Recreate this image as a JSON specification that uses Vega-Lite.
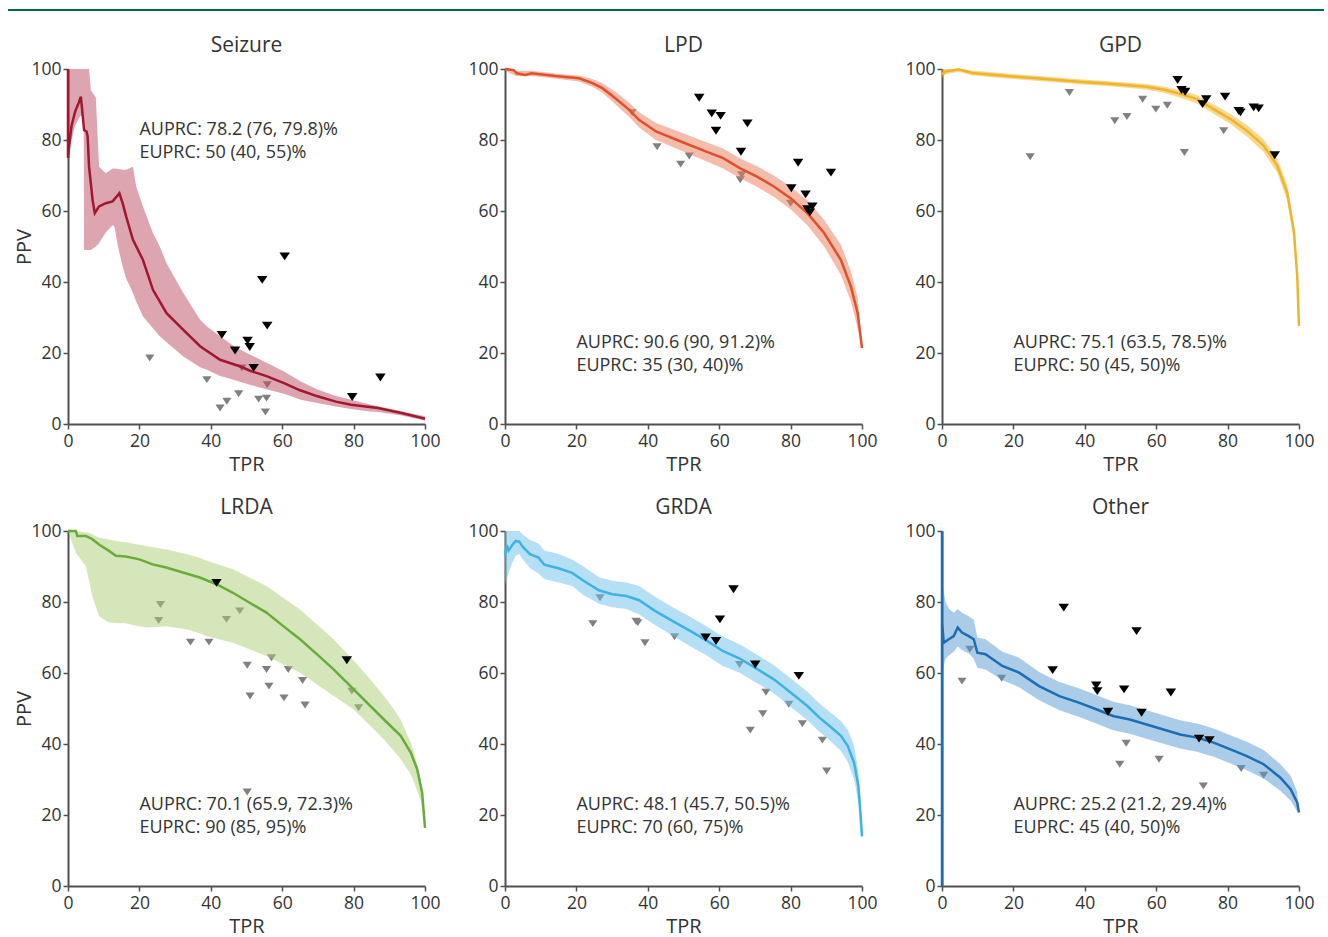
{
"$schema": "https://vega.github.io/schema/vega-lite/v6.json",
"padding": {"left": 8, "top": 9, "right": 4, "bottom": 2},
"bounds": "flush",
"spacing": 58,
"config": {
  "font": "Open Sans",
  "view": {"stroke": null},
  "axis": {"grid": false, "tickCount": 5, "labelFlush": false, "labelOverlap": false, "domainColor": "#505050", "domainWidth": 2, "tickColor": "#505050", "tickWidth": 1.5, "tickSize": 5, "labelFontSize": 17.5, "labelColor": "#333333", "titleFontSize": 20, "titleFontWeight": "normal", "titleColor": "#333333", "labelPadding": 3},
  "axisX": {"titlePadding": 5},
  "axisY": {"titlePadding": -4, "labelPadding": 2},
  "title": {"fontSize": 21, "fontWeight": "normal", "color": "#333333", "offset": 4}
},
"datasets": {
"curve": [
{"panel":"Seizure","tpr":0,"ppv":100},{"panel":"Seizure","tpr":0,"ppv":75},{"panel":"Seizure","tpr":0.5,"ppv":80},{"panel":"Seizure","tpr":1,"ppv":84},{"panel":"Seizure","tpr":2,"ppv":88},{"panel":"Seizure","tpr":3,"ppv":90.5},{"panel":"Seizure","tpr":3.6,"ppv":92.2},{"panel":"Seizure","tpr":4.3,"ppv":85},{"panel":"Seizure","tpr":4.5,"ppv":82.8},{"panel":"Seizure","tpr":5.2,"ppv":82.4},{"panel":"Seizure","tpr":5.5,"ppv":81},{"panel":"Seizure","tpr":5.9,"ppv":72.5},{"panel":"Seizure","tpr":6.9,"ppv":63},{"panel":"Seizure","tpr":7.5,"ppv":59.4},{"panel":"Seizure","tpr":8.7,"ppv":61.3},{"panel":"Seizure","tpr":10.6,"ppv":62.2},{"panel":"Seizure","tpr":12.5,"ppv":62.7},{"panel":"Seizure","tpr":14.4,"ppv":65},{"panel":"Seizure","tpr":15.3,"ppv":62.2},{"panel":"Seizure","tpr":16.3,"ppv":58.4},{"panel":"Seizure","tpr":18.2,"ppv":51.9},{"panel":"Seizure","tpr":21,"ppv":46.2},{"panel":"Seizure","tpr":23.8,"ppv":37.8},{"panel":"Seizure","tpr":27.6,"ppv":31.2},{"panel":"Seizure","tpr":32.3,"ppv":26.5},{"panel":"Seizure","tpr":37,"ppv":21.9},{"panel":"Seizure","tpr":42.6,"ppv":18.1},{"panel":"Seizure","tpr":48.3,"ppv":16.2},{"panel":"Seizure","tpr":51,"ppv":15},{"panel":"Seizure","tpr":55.8,"ppv":13.4},{"panel":"Seizure","tpr":60.5,"ppv":11.5},{"panel":"Seizure","tpr":65,"ppv":9.5},{"panel":"Seizure","tpr":69.9,"ppv":7.8},{"panel":"Seizure","tpr":75,"ppv":6.3},{"panel":"Seizure","tpr":79.3,"ppv":5.4},{"panel":"Seizure","tpr":86.8,"ppv":4.5},{"panel":"Seizure","tpr":93.4,"ppv":3.1},{"panel":"Seizure","tpr":100,"ppv":1.5},
{"panel":"LPD","tpr":0,"ppv":100},{"panel":"LPD","tpr":2.4,"ppv":99.7},{"panel":"LPD","tpr":3.3,"ppv":98.8},{"panel":"LPD","tpr":5.6,"ppv":98.3},{"panel":"LPD","tpr":7.5,"ppv":98.8},{"panel":"LPD","tpr":14.1,"ppv":98},{"panel":"LPD","tpr":20.7,"ppv":97.4},{"panel":"LPD","tpr":24.5,"ppv":96},{"panel":"LPD","tpr":27.3,"ppv":94.6},{"panel":"LPD","tpr":31,"ppv":91.7},{"panel":"LPD","tpr":34.8,"ppv":88.5},{"panel":"LPD","tpr":37.6,"ppv":85.6},{"panel":"LPD","tpr":42.3,"ppv":82.4},{"panel":"LPD","tpr":47,"ppv":80.5},{"panel":"LPD","tpr":51.7,"ppv":78.6},{"panel":"LPD","tpr":56.4,"ppv":76.7},{"panel":"LPD","tpr":61.1,"ppv":74.9},{"panel":"LPD","tpr":65.9,"ppv":72},{"panel":"LPD","tpr":70.6,"ppv":69.7},{"panel":"LPD","tpr":75.3,"ppv":66.9},{"panel":"LPD","tpr":80,"ppv":63.6},{"panel":"LPD","tpr":84.7,"ppv":59.4},{"panel":"LPD","tpr":89.4,"ppv":53.8},{"panel":"LPD","tpr":94.1,"ppv":46.2},{"panel":"LPD","tpr":96.9,"ppv":38.7},{"panel":"LPD","tpr":98.8,"ppv":31.2},{"panel":"LPD","tpr":100,"ppv":21.4},
{"panel":"GPD","tpr":0,"ppv":98.5},{"panel":"GPD","tpr":1,"ppv":99.3},{"panel":"GPD","tpr":4.7,"ppv":99.9},{"panel":"GPD","tpr":8.5,"ppv":98.9},{"panel":"GPD","tpr":19.7,"ppv":97.9},{"panel":"GPD","tpr":29.1,"ppv":97.2},{"panel":"GPD","tpr":38.5,"ppv":96.4},{"panel":"GPD","tpr":47.9,"ppv":95.8},{"panel":"GPD","tpr":57.3,"ppv":95},{"panel":"GPD","tpr":62,"ppv":94.2},{"panel":"GPD","tpr":66.7,"ppv":93},{"panel":"GPD","tpr":71.4,"ppv":91.5},{"panel":"GPD","tpr":76.1,"ppv":88.7},{"panel":"GPD","tpr":80.8,"ppv":85.9},{"panel":"GPD","tpr":85.4,"ppv":82.6},{"panel":"GPD","tpr":90.1,"ppv":78.4},{"panel":"GPD","tpr":93.9,"ppv":72.8},{"panel":"GPD","tpr":96.7,"ppv":65.2},{"panel":"GPD","tpr":98.6,"ppv":53.9},{"panel":"GPD","tpr":99.5,"ppv":41.7},{"panel":"GPD","tpr":100,"ppv":27.6},
{"panel":"LRDA","tpr":0,"ppv":100},{"panel":"LRDA","tpr":2.2,"ppv":100},{"panel":"LRDA","tpr":2.6,"ppv":98.6},{"panel":"LRDA","tpr":5,"ppv":98.6},{"panel":"LRDA","tpr":6.8,"ppv":97.7},{"panel":"LRDA","tpr":8.7,"ppv":96.2},{"panel":"LRDA","tpr":11.5,"ppv":94.4},{"panel":"LRDA","tpr":13.4,"ppv":93},{"panel":"LRDA","tpr":16.2,"ppv":92.8},{"panel":"LRDA","tpr":20,"ppv":92},{"panel":"LRDA","tpr":23.7,"ppv":90.6},{"panel":"LRDA","tpr":27.5,"ppv":89.7},{"panel":"LRDA","tpr":32.2,"ppv":88.3},{"panel":"LRDA","tpr":36.9,"ppv":86.9},{"panel":"LRDA","tpr":41.6,"ppv":85},{"panel":"LRDA","tpr":46.2,"ppv":82.6},{"panel":"LRDA","tpr":50.9,"ppv":79.8},{"panel":"LRDA","tpr":55.6,"ppv":77},{"panel":"LRDA","tpr":60.3,"ppv":73.2},{"panel":"LRDA","tpr":65,"ppv":69.5},{"panel":"LRDA","tpr":69.7,"ppv":65.3},{"panel":"LRDA","tpr":74.4,"ppv":61},{"panel":"LRDA","tpr":79.1,"ppv":56.3},{"panel":"LRDA","tpr":83.8,"ppv":51.6},{"panel":"LRDA","tpr":88.5,"ppv":46.9},{"panel":"LRDA","tpr":93.2,"ppv":42.3},{"panel":"LRDA","tpr":96,"ppv":37.6},{"panel":"LRDA","tpr":97.8,"ppv":32.9},{"panel":"LRDA","tpr":99.2,"ppv":26.3},{"panel":"LRDA","tpr":100,"ppv":16.4},
{"panel":"GRDA","tpr":0,"ppv":93},{"panel":"GRDA","tpr":0.5,"ppv":96},{"panel":"GRDA","tpr":1,"ppv":94.5},{"panel":"GRDA","tpr":2,"ppv":96},{"panel":"GRDA","tpr":3,"ppv":97.2},{"panel":"GRDA","tpr":4,"ppv":97},{"panel":"GRDA","tpr":5,"ppv":95.5},{"panel":"GRDA","tpr":7,"ppv":93.5},{"panel":"GRDA","tpr":9.4,"ppv":92.5},{"panel":"GRDA","tpr":11,"ppv":90.5},{"panel":"GRDA","tpr":13,"ppv":90},{"panel":"GRDA","tpr":15,"ppv":89.5},{"panel":"GRDA","tpr":18.8,"ppv":88.2},{"panel":"GRDA","tpr":22,"ppv":86},{"panel":"GRDA","tpr":26.3,"ppv":83.3},{"panel":"GRDA","tpr":30,"ppv":82.2},{"panel":"GRDA","tpr":34,"ppv":81.7},{"panel":"GRDA","tpr":37.6,"ppv":80.5},{"panel":"GRDA","tpr":42,"ppv":77.5},{"panel":"GRDA","tpr":47,"ppv":74.6},{"panel":"GRDA","tpr":52,"ppv":71.8},{"panel":"GRDA","tpr":56.4,"ppv":69.2},{"panel":"GRDA","tpr":61,"ppv":66.2},{"panel":"GRDA","tpr":65.9,"ppv":64},{"panel":"GRDA","tpr":70,"ppv":61.5},{"panel":"GRDA","tpr":75.3,"ppv":58.2},{"panel":"GRDA","tpr":80,"ppv":54.5},{"panel":"GRDA","tpr":84.7,"ppv":50.7},{"panel":"GRDA","tpr":88,"ppv":47.5},{"panel":"GRDA","tpr":91,"ppv":45},{"panel":"GRDA","tpr":94.1,"ppv":42.3},{"panel":"GRDA","tpr":96,"ppv":39.5},{"panel":"GRDA","tpr":97.8,"ppv":34.7},{"panel":"GRDA","tpr":99,"ppv":28},{"panel":"GRDA","tpr":99.6,"ppv":20},{"panel":"GRDA","tpr":100,"ppv":14},
{"panel":"Other","tpr":0,"ppv":0},{"panel":"Other","tpr":0,"ppv":100},{"panel":"Other","tpr":0,"ppv":74.2},{"panel":"Other","tpr":0.5,"ppv":68.5},{"panel":"Other","tpr":1.9,"ppv":69.5},{"panel":"Other","tpr":3.3,"ppv":70.4},{"panel":"Other","tpr":4.4,"ppv":72.8},{"panel":"Other","tpr":5.6,"ppv":71.4},{"panel":"Other","tpr":7.5,"ppv":70.4},{"panel":"Other","tpr":8.9,"ppv":69.5},{"panel":"Other","tpr":9.9,"ppv":65.7},{"panel":"Other","tpr":12.2,"ppv":65.3},{"panel":"Other","tpr":16.9,"ppv":62},{"panel":"Other","tpr":21.6,"ppv":60.1},{"panel":"Other","tpr":27.2,"ppv":56.3},{"panel":"Other","tpr":32.9,"ppv":53.5},{"panel":"Other","tpr":38.5,"ppv":51.6},{"panel":"Other","tpr":43.2,"ppv":49.8},{"panel":"Other","tpr":47.9,"ppv":47.9},{"panel":"Other","tpr":52.6,"ppv":46.9},{"panel":"Other","tpr":57.3,"ppv":45.5},{"panel":"Other","tpr":62,"ppv":44.1},{"panel":"Other","tpr":66.7,"ppv":42.7},{"panel":"Other","tpr":71.4,"ppv":41.8},{"panel":"Other","tpr":76.1,"ppv":40.4},{"panel":"Other","tpr":80.8,"ppv":38.5},{"panel":"Other","tpr":85.4,"ppv":36.6},{"panel":"Other","tpr":90.1,"ppv":34.3},{"panel":"Other","tpr":94.8,"ppv":30.5},{"panel":"Other","tpr":97.7,"ppv":27.2},{"panel":"Other","tpr":99.5,"ppv":23.5},{"panel":"Other","tpr":100,"ppv":20.7}
],
"band": [
{"panel":"Seizure","tpr":0,"lo":75,"hi":100},{"panel":"Seizure","tpr":1,"lo":80,"hi":100},{"panel":"Seizure","tpr":2,"lo":84,"hi":100},{"panel":"Seizure","tpr":3,"lo":86,"hi":100},{"panel":"Seizure","tpr":3.6,"lo":87,"hi":100},{"panel":"Seizure","tpr":4.4,"lo":86,"hi":100},{"panel":"Seizure","tpr":4.5,"lo":49,"hi":100},{"panel":"Seizure","tpr":5.9,"lo":49,"hi":100},{"panel":"Seizure","tpr":6.4,"lo":49,"hi":94},{"panel":"Seizure","tpr":7.8,"lo":50,"hi":92},{"panel":"Seizure","tpr":8.7,"lo":51,"hi":72.5},{"panel":"Seizure","tpr":10.6,"lo":54,"hi":70.6},{"panel":"Seizure","tpr":12.5,"lo":56,"hi":72},{"panel":"Seizure","tpr":13,"lo":55.6,"hi":72},{"panel":"Seizure","tpr":14,"lo":50,"hi":71.8},{"panel":"Seizure","tpr":15.3,"lo":44.4,"hi":71.6},{"panel":"Seizure","tpr":16.3,"lo":41,"hi":71.6},{"panel":"Seizure","tpr":18.2,"lo":36.9,"hi":72.5},{"panel":"Seizure","tpr":19.1,"lo":34.5,"hi":66.9},{"panel":"Seizure","tpr":21,"lo":30.3,"hi":61.3},{"panel":"Seizure","tpr":23.8,"lo":27,"hi":53.8},{"panel":"Seizure","tpr":25.7,"lo":24.7,"hi":50},{"panel":"Seizure","tpr":27.6,"lo":23,"hi":45.3},{"panel":"Seizure","tpr":32.3,"lo":19,"hi":36.9},{"panel":"Seizure","tpr":37,"lo":16,"hi":29.4},{"panel":"Seizure","tpr":38.9,"lo":15.3,"hi":27.5},{"panel":"Seizure","tpr":42.6,"lo":13.5,"hi":24.7},{"panel":"Seizure","tpr":46.4,"lo":12.5,"hi":22},{"panel":"Seizure","tpr":48.3,"lo":11.8,"hi":20.9},{"panel":"Seizure","tpr":55.8,"lo":9.7,"hi":17.2},{"panel":"Seizure","tpr":60.5,"lo":8.5,"hi":14.8},{"panel":"Seizure","tpr":65.2,"lo":6.8,"hi":12},{"panel":"Seizure","tpr":69.9,"lo":5.9,"hi":9.7},{"panel":"Seizure","tpr":74.6,"lo":5,"hi":8},{"panel":"Seizure","tpr":79.3,"lo":4.2,"hi":6.8},{"panel":"Seizure","tpr":84,"lo":3.6,"hi":5.6},{"panel":"Seizure","tpr":86.8,"lo":3.4,"hi":5},{"panel":"Seizure","tpr":93.4,"lo":2.4,"hi":3.6},{"panel":"Seizure","tpr":100,"lo":1,"hi":2.2},
{"panel":"LPD","tpr":0,"lo":99.5,"hi":100},{"panel":"LPD","tpr":3,"lo":98,"hi":99.5},{"panel":"LPD","tpr":7.5,"lo":98,"hi":99.5},{"panel":"LPD","tpr":14,"lo":97.3,"hi":98.7},{"panel":"LPD","tpr":20.7,"lo":96.5,"hi":98.2},{"panel":"LPD","tpr":24.5,"lo":95,"hi":97.2},{"panel":"LPD","tpr":27.3,"lo":93.3,"hi":96},{"panel":"LPD","tpr":31,"lo":90,"hi":93.5},{"panel":"LPD","tpr":34.8,"lo":86.5,"hi":90.5},{"panel":"LPD","tpr":37.6,"lo":83.5,"hi":87.8},{"panel":"LPD","tpr":42.3,"lo":80,"hi":84.8},{"panel":"LPD","tpr":47,"lo":78,"hi":83},{"panel":"LPD","tpr":51.7,"lo":76,"hi":81.2},{"panel":"LPD","tpr":56.4,"lo":74,"hi":79.4},{"panel":"LPD","tpr":61.1,"lo":72,"hi":77.6},{"panel":"LPD","tpr":65.9,"lo":69.2,"hi":74.8},{"panel":"LPD","tpr":70.6,"lo":66.8,"hi":72.6},{"panel":"LPD","tpr":75.3,"lo":64,"hi":70},{"panel":"LPD","tpr":80,"lo":60.5,"hi":66.8},{"panel":"LPD","tpr":84.7,"lo":56,"hi":63},{"panel":"LPD","tpr":89.4,"lo":50,"hi":57.5},{"panel":"LPD","tpr":94.1,"lo":42,"hi":50.5},{"panel":"LPD","tpr":96.9,"lo":34.5,"hi":43},{"panel":"LPD","tpr":98.8,"lo":27,"hi":35.5},{"panel":"LPD","tpr":100,"lo":21.4,"hi":21.4},
{"panel":"GPD","tpr":0,"lo":97.5,"hi":100},{"panel":"GPD","tpr":1,"lo":98.5,"hi":100},{"panel":"GPD","tpr":4.7,"lo":99.2,"hi":100},{"panel":"GPD","tpr":8.5,"lo":98.2,"hi":99.6},{"panel":"GPD","tpr":19.7,"lo":97.2,"hi":98.6},{"panel":"GPD","tpr":29.1,"lo":96.5,"hi":97.9},{"panel":"GPD","tpr":38.5,"lo":95.7,"hi":97.1},{"panel":"GPD","tpr":47.9,"lo":95.1,"hi":96.5},{"panel":"GPD","tpr":57.3,"lo":94.2,"hi":95.8},{"panel":"GPD","tpr":62,"lo":93.3,"hi":95.1},{"panel":"GPD","tpr":66.7,"lo":92,"hi":94},{"panel":"GPD","tpr":71.4,"lo":90.3,"hi":92.7},{"panel":"GPD","tpr":76.1,"lo":87.4,"hi":90},{"panel":"GPD","tpr":80.8,"lo":84.5,"hi":87.3},{"panel":"GPD","tpr":85.4,"lo":81,"hi":84.2},{"panel":"GPD","tpr":90.1,"lo":76.6,"hi":80.2},{"panel":"GPD","tpr":93.9,"lo":70.8,"hi":74.8},{"panel":"GPD","tpr":96.7,"lo":63,"hi":67.4},{"panel":"GPD","tpr":98.6,"lo":51.5,"hi":56.3},{"panel":"GPD","tpr":99.5,"lo":39.5,"hi":44},{"panel":"GPD","tpr":100,"lo":27.6,"hi":27.6},
{"panel":"LRDA","tpr":0,"lo":100,"hi":100},{"panel":"LRDA","tpr":2.2,"lo":93.9,"hi":100},{"panel":"LRDA","tpr":5,"lo":90.1,"hi":99.6},{"panel":"LRDA","tpr":5.9,"lo":86,"hi":99.5},{"panel":"LRDA","tpr":6.8,"lo":81.7,"hi":99},{"panel":"LRDA","tpr":8.7,"lo":76,"hi":98.1},{"panel":"LRDA","tpr":11.5,"lo":74.2,"hi":97.6},{"panel":"LRDA","tpr":13.4,"lo":74.1,"hi":97.2},{"panel":"LRDA","tpr":16.2,"lo":74,"hi":96.8},{"panel":"LRDA","tpr":18.1,"lo":73.5,"hi":96.5},{"panel":"LRDA","tpr":21.9,"lo":72.8,"hi":95.8},{"panel":"LRDA","tpr":27.5,"lo":73.2,"hi":94.8},{"panel":"LRDA","tpr":33.1,"lo":72.3,"hi":93.5},{"panel":"LRDA","tpr":36.9,"lo":71.2,"hi":92.5},{"panel":"LRDA","tpr":38.7,"lo":70.4,"hi":91.7},{"panel":"LRDA","tpr":46.2,"lo":68.5,"hi":89.2},{"panel":"LRDA","tpr":55.6,"lo":64.8,"hi":84.5},{"panel":"LRDA","tpr":65,"lo":60.1,"hi":77.9},{"panel":"LRDA","tpr":74.4,"lo":53.5,"hi":69.5},{"panel":"LRDA","tpr":80,"lo":49.8,"hi":63.5},{"panel":"LRDA","tpr":83.8,"lo":46,"hi":59.2},{"panel":"LRDA","tpr":88.5,"lo":41.3,"hi":53.5},{"panel":"LRDA","tpr":91.3,"lo":38,"hi":49.8},{"panel":"LRDA","tpr":93.2,"lo":35.7,"hi":46.8},{"panel":"LRDA","tpr":96,"lo":31.5,"hi":40.4},{"panel":"LRDA","tpr":97,"lo":29.1,"hi":37.5},{"panel":"LRDA","tpr":98.8,"lo":24,"hi":30},{"panel":"LRDA","tpr":99.2,"lo":21.6,"hi":27},{"panel":"LRDA","tpr":100,"lo":16.4,"hi":16.4},
{"panel":"GRDA","tpr":0,"lo":85,"hi":100},{"panel":"GRDA","tpr":1,"lo":88,"hi":100},{"panel":"GRDA","tpr":2,"lo":91,"hi":100},{"panel":"GRDA","tpr":3,"lo":93,"hi":100},{"panel":"GRDA","tpr":4,"lo":93.5,"hi":100},{"panel":"GRDA","tpr":5,"lo":92,"hi":99},{"panel":"GRDA","tpr":7,"lo":89.5,"hi":97.5},{"panel":"GRDA","tpr":9.4,"lo":88,"hi":96.5},{"panel":"GRDA","tpr":11,"lo":86.5,"hi":94.5},{"panel":"GRDA","tpr":13,"lo":86,"hi":94},{"panel":"GRDA","tpr":15,"lo":85.5,"hi":93.5},{"panel":"GRDA","tpr":18.8,"lo":84.5,"hi":92},{"panel":"GRDA","tpr":22,"lo":82,"hi":90},{"panel":"GRDA","tpr":26.3,"lo":79.5,"hi":87},{"panel":"GRDA","tpr":30,"lo":78.5,"hi":86},{"panel":"GRDA","tpr":34,"lo":78,"hi":85.5},{"panel":"GRDA","tpr":37.6,"lo":76.5,"hi":84.5},{"panel":"GRDA","tpr":42,"lo":73.5,"hi":81.5},{"panel":"GRDA","tpr":47,"lo":70.5,"hi":78.5},{"panel":"GRDA","tpr":52,"lo":67.5,"hi":75.8},{"panel":"GRDA","tpr":56.4,"lo":65,"hi":73.2},{"panel":"GRDA","tpr":61,"lo":62,"hi":70.3},{"panel":"GRDA","tpr":65.9,"lo":60,"hi":68},{"panel":"GRDA","tpr":70,"lo":57.5,"hi":65.5},{"panel":"GRDA","tpr":75.3,"lo":54.3,"hi":62.2},{"panel":"GRDA","tpr":80,"lo":50.5,"hi":58.5},{"panel":"GRDA","tpr":84.7,"lo":46.7,"hi":54.7},{"panel":"GRDA","tpr":88,"lo":43.5,"hi":51.5},{"panel":"GRDA","tpr":91,"lo":41,"hi":49},{"panel":"GRDA","tpr":94.1,"lo":38,"hi":46.5},{"panel":"GRDA","tpr":96,"lo":35,"hi":44},{"panel":"GRDA","tpr":97.8,"lo":30,"hi":39.5},{"panel":"GRDA","tpr":99,"lo":23.5,"hi":32},{"panel":"GRDA","tpr":99.6,"lo":17,"hi":24},{"panel":"GRDA","tpr":100,"lo":14,"hi":14},
{"panel":"Other","tpr":0,"lo":60,"hi":86},{"panel":"Other","tpr":1,"lo":64,"hi":80},{"panel":"Other","tpr":2,"lo":65,"hi":78},{"panel":"Other","tpr":3.3,"lo":66,"hi":77},{"panel":"Other","tpr":4.4,"lo":67.5,"hi":78},{"panel":"Other","tpr":5.6,"lo":66.5,"hi":77},{"panel":"Other","tpr":7.5,"lo":65.5,"hi":76},{"panel":"Other","tpr":8.9,"lo":64,"hi":75},{"panel":"Other","tpr":9.9,"lo":61.5,"hi":70},{"panel":"Other","tpr":12.2,"lo":61,"hi":69.5},{"panel":"Other","tpr":16.9,"lo":58,"hi":66},{"panel":"Other","tpr":21.6,"lo":56,"hi":64.3},{"panel":"Other","tpr":27.2,"lo":52.3,"hi":60.3},{"panel":"Other","tpr":32.9,"lo":49.5,"hi":57.5},{"panel":"Other","tpr":38.5,"lo":47.6,"hi":55.6},{"panel":"Other","tpr":43.2,"lo":45.8,"hi":53.8},{"panel":"Other","tpr":47.9,"lo":43.9,"hi":51.9},{"panel":"Other","tpr":52.6,"lo":42.9,"hi":50.9},{"panel":"Other","tpr":57.3,"lo":41.5,"hi":49.5},{"panel":"Other","tpr":62,"lo":40.1,"hi":48.1},{"panel":"Other","tpr":66.7,"lo":38.7,"hi":46.7},{"panel":"Other","tpr":71.4,"lo":37.8,"hi":45.8},{"panel":"Other","tpr":76.1,"lo":36.4,"hi":44.4},{"panel":"Other","tpr":80.8,"lo":34.5,"hi":42.5},{"panel":"Other","tpr":85.4,"lo":32.6,"hi":40.6},{"panel":"Other","tpr":90.1,"lo":30.3,"hi":38.3},{"panel":"Other","tpr":94.8,"lo":26.8,"hi":34.3},{"panel":"Other","tpr":97.7,"lo":24,"hi":31},{"panel":"Other","tpr":99.5,"lo":21,"hi":26.5},{"panel":"Other","tpr":100,"lo":20.7,"hi":20.7}
],
"pts": [
{"panel":"Seizure","kind":"black","tpr":43.1,"ppv":25.1},{"panel":"Seizure","kind":"black","tpr":46.8,"ppv":20.7},{"panel":"Seizure","kind":"black","tpr":50.3,"ppv":23.5},{"panel":"Seizure","kind":"black","tpr":50.9,"ppv":21.7},{"panel":"Seizure","kind":"black","tpr":52,"ppv":15.8},{"panel":"Seizure","kind":"black","tpr":54.4,"ppv":40.6},{"panel":"Seizure","kind":"black","tpr":55.8,"ppv":27.7},{"panel":"Seizure","kind":"black","tpr":60.7,"ppv":47.2},{"panel":"Seizure","kind":"black","tpr":79.6,"ppv":7.6},{"panel":"Seizure","kind":"black","tpr":87.5,"ppv":13.1},
{"panel":"Seizure","kind":"gray","tpr":22.9,"ppv":18.6},{"panel":"Seizure","kind":"gray","tpr":38.9,"ppv":12.5},{"panel":"Seizure","kind":"gray","tpr":42.6,"ppv":4.5},{"panel":"Seizure","kind":"gray","tpr":44.5,"ppv":6.4},{"panel":"Seizure","kind":"gray","tpr":47.8,"ppv":8.5},{"panel":"Seizure","kind":"gray","tpr":48.7,"ppv":15.8},{"panel":"Seizure","kind":"gray","tpr":53.4,"ppv":7},{"panel":"Seizure","kind":"gray","tpr":55.6,"ppv":7.3},{"panel":"Seizure","kind":"gray","tpr":55.8,"ppv":11.1},{"panel":"Seizure","kind":"gray","tpr":55.3,"ppv":3.4},
{"panel":"LPD","kind":"black","tpr":54.4,"ppv":91.9},{"panel":"LPD","kind":"black","tpr":57.9,"ppv":87.5},{"panel":"LPD","kind":"black","tpr":60.4,"ppv":86.8},{"panel":"LPD","kind":"black","tpr":59.1,"ppv":82.6},{"panel":"LPD","kind":"black","tpr":67.9,"ppv":84.7},{"panel":"LPD","kind":"black","tpr":66.1,"ppv":76.7},{"panel":"LPD","kind":"black","tpr":80.2,"ppv":66.4},{"panel":"LPD","kind":"black","tpr":82.1,"ppv":73.6},{"panel":"LPD","kind":"black","tpr":84.2,"ppv":64.7},{"panel":"LPD","kind":"black","tpr":91.3,"ppv":70.8},{"panel":"LPD","kind":"black","tpr":84.7,"ppv":60.5},{"panel":"LPD","kind":"black","tpr":86.1,"ppv":61.3},{"panel":"LPD","kind":"black","tpr":85.4,"ppv":59.6},
{"panel":"LPD","kind":"gray","tpr":35.6,"ppv":87.7},{"panel":"LPD","kind":"gray","tpr":42.6,"ppv":78.1},{"panel":"LPD","kind":"gray","tpr":49.2,"ppv":73.2},{"panel":"LPD","kind":"gray","tpr":51.6,"ppv":75.5},{"panel":"LPD","kind":"gray","tpr":65.9,"ppv":68.8},{"panel":"LPD","kind":"gray","tpr":66.3,"ppv":70.2},{"panel":"LPD","kind":"gray","tpr":80,"ppv":62.2},
{"panel":"GPD","kind":"black","tpr":66,"ppv":96.9},{"panel":"GPD","kind":"black","tpr":67.1,"ppv":94.1},{"panel":"GPD","kind":"black","tpr":68.1,"ppv":93.6},{"panel":"GPD","kind":"black","tpr":74,"ppv":91.5},{"panel":"GPD","kind":"black","tpr":73,"ppv":90.1},{"panel":"GPD","kind":"black","tpr":79.3,"ppv":92.2},{"panel":"GPD","kind":"black","tpr":83.1,"ppv":88.2},{"panel":"GPD","kind":"black","tpr":83.6,"ppv":87.8},{"panel":"GPD","kind":"black","tpr":87.3,"ppv":89.2},{"panel":"GPD","kind":"black","tpr":88.7,"ppv":88.9},{"panel":"GPD","kind":"black","tpr":93.2,"ppv":75.7},
{"panel":"GPD","kind":"gray","tpr":24.7,"ppv":75.3},{"panel":"GPD","kind":"gray","tpr":35.7,"ppv":93.4},{"panel":"GPD","kind":"gray","tpr":48.4,"ppv":85.4},{"panel":"GPD","kind":"gray","tpr":51.8,"ppv":86.6},{"panel":"GPD","kind":"gray","tpr":56.2,"ppv":91.5},{"panel":"GPD","kind":"gray","tpr":59.9,"ppv":88.7},{"panel":"GPD","kind":"gray","tpr":63.1,"ppv":89.8},{"panel":"GPD","kind":"gray","tpr":67.9,"ppv":76.5},{"panel":"GPD","kind":"gray","tpr":78.9,"ppv":82.6},
{"panel":"LRDA","kind":"black","tpr":41.6,"ppv":85.4},{"panel":"LRDA","kind":"black","tpr":78.1,"ppv":63.6},
{"panel":"LRDA","kind":"gray","tpr":25.9,"ppv":79.3},{"panel":"LRDA","kind":"gray","tpr":25.4,"ppv":74.8},{"panel":"LRDA","kind":"gray","tpr":34.3,"ppv":68.7},{"panel":"LRDA","kind":"gray","tpr":39.5,"ppv":68.7},{"panel":"LRDA","kind":"gray","tpr":44.4,"ppv":75.1},{"panel":"LRDA","kind":"gray","tpr":48.1,"ppv":77.5},{"panel":"LRDA","kind":"gray","tpr":50.2,"ppv":62.2},{"panel":"LRDA","kind":"gray","tpr":51,"ppv":53.5},{"panel":"LRDA","kind":"gray","tpr":55.6,"ppv":61},{"panel":"LRDA","kind":"gray","tpr":56.3,"ppv":56.3},{"panel":"LRDA","kind":"gray","tpr":57,"ppv":64.3},{"panel":"LRDA","kind":"gray","tpr":61.7,"ppv":61},{"panel":"LRDA","kind":"gray","tpr":60.5,"ppv":53},{"panel":"LRDA","kind":"gray","tpr":65.7,"ppv":57.9},{"panel":"LRDA","kind":"gray","tpr":66.4,"ppv":51},{"panel":"LRDA","kind":"gray","tpr":79.5,"ppv":54.9},{"panel":"LRDA","kind":"gray","tpr":81.4,"ppv":50.2},{"panel":"LRDA","kind":"gray","tpr":50.2,"ppv":26.5},
{"panel":"GRDA","kind":"black","tpr":64,"ppv":83.6},{"panel":"GRDA","kind":"black","tpr":60.2,"ppv":75.1},{"panel":"GRDA","kind":"black","tpr":56.2,"ppv":70},{"panel":"GRDA","kind":"black","tpr":59.1,"ppv":69},{"panel":"GRDA","kind":"black","tpr":70.1,"ppv":62.4},{"panel":"GRDA","kind":"black","tpr":82.3,"ppv":59.2},
{"panel":"GRDA","kind":"gray","tpr":24.6,"ppv":73.9},{"panel":"GRDA","kind":"gray","tpr":26.6,"ppv":81.2},{"panel":"GRDA","kind":"gray","tpr":36.7,"ppv":74.6},{"panel":"GRDA","kind":"gray","tpr":37.2,"ppv":74.2},{"panel":"GRDA","kind":"gray","tpr":39.2,"ppv":68.5},{"panel":"GRDA","kind":"gray","tpr":47.5,"ppv":70.2},{"panel":"GRDA","kind":"gray","tpr":65.7,"ppv":62.4},{"panel":"GRDA","kind":"gray","tpr":68.7,"ppv":43.9},{"panel":"GRDA","kind":"gray","tpr":73.1,"ppv":54.6},{"panel":"GRDA","kind":"gray","tpr":72.2,"ppv":48.5},{"panel":"GRDA","kind":"gray","tpr":79.5,"ppv":51.2},{"panel":"GRDA","kind":"gray","tpr":83.3,"ppv":45.7},{"panel":"GRDA","kind":"gray","tpr":88.9,"ppv":41.1},{"panel":"GRDA","kind":"gray","tpr":90.1,"ppv":32.4},
{"panel":"Other","kind":"black","tpr":34.1,"ppv":78.4},{"panel":"Other","kind":"black","tpr":54.5,"ppv":71.8},{"panel":"Other","kind":"black","tpr":31,"ppv":60.8},{"panel":"Other","kind":"black","tpr":43.2,"ppv":56.5},{"panel":"Other","kind":"black","tpr":43.5,"ppv":54.9},{"panel":"Other","kind":"black","tpr":51,"ppv":55.4},{"panel":"Other","kind":"black","tpr":64.1,"ppv":54.5},{"panel":"Other","kind":"black","tpr":46.5,"ppv":49.1},{"panel":"Other","kind":"black","tpr":55.9,"ppv":48.8},{"panel":"Other","kind":"black","tpr":72,"ppv":41.5},{"panel":"Other","kind":"black","tpr":74.9,"ppv":41.1},
{"panel":"Other","kind":"gray","tpr":5.6,"ppv":57.7},{"panel":"Other","kind":"gray","tpr":7.8,"ppv":66.7},{"panel":"Other","kind":"gray","tpr":16.7,"ppv":58.5},{"panel":"Other","kind":"gray","tpr":51.6,"ppv":40.2},{"panel":"Other","kind":"gray","tpr":49.8,"ppv":34.3},{"panel":"Other","kind":"gray","tpr":60.8,"ppv":35.7},{"panel":"Other","kind":"gray","tpr":73.2,"ppv":28.2},{"panel":"Other","kind":"gray","tpr":83.8,"ppv":33.1},{"panel":"Other","kind":"gray","tpr":90.1,"ppv":31.2}
],
"ann": [
{"panel":"Seizure","tpr":20,"ppv":82.8,"text":"AUPRC: 78.2 (76, 79.8)%"},{"panel":"Seizure","tpr":20,"ppv":76.3,"text":"EUPRC: 50 (40, 55)%"},
{"panel":"LPD","tpr":20,"ppv":22.8,"text":"AUPRC: 90.6 (90, 91.2)%"},{"panel":"LPD","tpr":20,"ppv":16.3,"text":"EUPRC: 35 (30, 40)%"},
{"panel":"GPD","tpr":20,"ppv":22.8,"text":"AUPRC: 75.1 (63.5, 78.5)%"},{"panel":"GPD","tpr":20,"ppv":16.3,"text":"EUPRC: 50 (45, 50)%"},
{"panel":"LRDA","tpr":20,"ppv":22.8,"text":"AUPRC: 70.1 (65.9, 72.3)%"},{"panel":"LRDA","tpr":20,"ppv":16.3,"text":"EUPRC: 90 (85, 95)%"},
{"panel":"GRDA","tpr":20,"ppv":22.8,"text":"AUPRC: 48.1 (45.7, 50.5)%"},{"panel":"GRDA","tpr":20,"ppv":16.3,"text":"EUPRC: 70 (60, 75)%"},
{"panel":"Other","tpr":20,"ppv":22.8,"text":"AUPRC: 25.2 (21.2, 29.4)%"},{"panel":"Other","tpr":20,"ppv":16.3,"text":"EUPRC: 45 (40, 50)%"}
]
},
"vconcat": [
{"width": 1316, "height": 2, "data": {"values": []}, "mark": "point", "view": {"fill": "#00694a", "stroke": null}},
{"bounds": "flush", "spacing": 59, "hconcat": [
 {"width": 1, "height": 1, "data": {"values": []}, "mark": "point"},
 {"bounds": "flush", "columns": 3, "spacing": {"row": 107, "column": 80}, "concat": [
   {"title": "Seizure", "width": 357, "height": 355, "layer": [
    {"data": {"name": "pts"}, "transform": [{"filter": "datum.panel == 'Seizure' && datum.kind == 'gray'"}], "mark": {"type": "point", "shape": "M-1,-0.75L1,-0.75L0,0.75Z", "filled": true, "opacity": 1, "color": "#808080", "size": 85}, "encoding": {"x": {"field": "tpr", "type": "quantitative", "scale": {"domain": [0, 100]}, "title": "TPR"}, "y": {"field": "ppv", "type": "quantitative", "scale": {"domain": [0, 100]}, "title": "PPV"}}},
    {"data": {"name": "band"}, "transform": [{"filter": "datum.panel == 'Seizure'"}], "mark": {"type": "area", "color": "#bb4b61", "opacity": 0.5}, "encoding": {"x": {"field": "tpr", "type": "quantitative", "title": "TPR"}, "y": {"field": "lo", "type": "quantitative", "title": "PPV"}, "y2": {"field": "hi"}}},
    {"data": {"name": "curve"}, "transform": [{"filter": "datum.panel == 'Seizure'"}], "mark": {"type": "line", "color": "#a0172f", "strokeWidth": 2.5}, "encoding": {"x": {"field": "tpr", "type": "quantitative", "title": "TPR"}, "y": {"field": "ppv", "type": "quantitative", "title": "PPV"}}},
    {"data": {"name": "pts"}, "transform": [{"filter": "datum.panel == 'Seizure' && datum.kind == 'black'"}], "mark": {"type": "point", "shape": "M-1,-0.75L1,-0.75L0,0.75Z", "filled": true, "opacity": 1, "color": "#000000", "size": 110}, "encoding": {"x": {"field": "tpr", "type": "quantitative", "title": "TPR"}, "y": {"field": "ppv", "type": "quantitative", "title": "PPV"}}},
    {"data": {"name": "ann"}, "transform": [{"filter": "datum.panel == 'Seizure'"}], "mark": {"type": "text", "align": "left", "baseline": "middle", "fontSize": 18, "color": "#333333"}, "encoding": {"x": {"field": "tpr", "type": "quantitative", "title": "TPR"}, "y": {"field": "ppv", "type": "quantitative", "title": "PPV"}, "text": {"field": "text"}}}
   ]},
   {"title": "LPD", "width": 357, "height": 355, "layer": [
    {"data": {"name": "pts"}, "transform": [{"filter": "datum.panel == 'LPD' && datum.kind == 'gray'"}], "mark": {"type": "point", "shape": "M-1,-0.75L1,-0.75L0,0.75Z", "filled": true, "opacity": 1, "color": "#808080", "size": 85}, "encoding": {"x": {"field": "tpr", "type": "quantitative", "scale": {"domain": [0, 100]}, "title": "TPR"}, "y": {"field": "ppv", "type": "quantitative", "scale": {"domain": [0, 100]}, "title": null}}},
    {"data": {"name": "band"}, "transform": [{"filter": "datum.panel == 'LPD'"}], "mark": {"type": "area", "color": "#ea7b58", "opacity": 0.5}, "encoding": {"x": {"field": "tpr", "type": "quantitative", "title": "TPR"}, "y": {"field": "lo", "type": "quantitative", "title": null}, "y2": {"field": "hi"}}},
    {"data": {"name": "curve"}, "transform": [{"filter": "datum.panel == 'LPD'"}], "mark": {"type": "line", "color": "#e0502b", "strokeWidth": 2.5}, "encoding": {"x": {"field": "tpr", "type": "quantitative", "title": "TPR"}, "y": {"field": "ppv", "type": "quantitative", "title": null}}},
    {"data": {"name": "pts"}, "transform": [{"filter": "datum.panel == 'LPD' && datum.kind == 'black'"}], "mark": {"type": "point", "shape": "M-1,-0.75L1,-0.75L0,0.75Z", "filled": true, "opacity": 1, "color": "#000000", "size": 110}, "encoding": {"x": {"field": "tpr", "type": "quantitative", "title": "TPR"}, "y": {"field": "ppv", "type": "quantitative", "title": null}}},
    {"data": {"name": "ann"}, "transform": [{"filter": "datum.panel == 'LPD'"}], "mark": {"type": "text", "align": "left", "baseline": "middle", "fontSize": 18, "color": "#333333"}, "encoding": {"x": {"field": "tpr", "type": "quantitative", "title": "TPR"}, "y": {"field": "ppv", "type": "quantitative", "title": null}, "text": {"field": "text"}}}
   ]},
   {"title": "GPD", "width": 357, "height": 355, "layer": [
    {"data": {"name": "pts"}, "transform": [{"filter": "datum.panel == 'GPD' && datum.kind == 'gray'"}], "mark": {"type": "point", "shape": "M-1,-0.75L1,-0.75L0,0.75Z", "filled": true, "opacity": 1, "color": "#808080", "size": 85}, "encoding": {"x": {"field": "tpr", "type": "quantitative", "scale": {"domain": [0, 100]}, "title": "TPR"}, "y": {"field": "ppv", "type": "quantitative", "scale": {"domain": [0, 100]}, "title": null}}},
    {"data": {"name": "band"}, "transform": [{"filter": "datum.panel == 'GPD'"}], "mark": {"type": "area", "color": "#efb21f", "opacity": 0.5}, "encoding": {"x": {"field": "tpr", "type": "quantitative", "title": "TPR"}, "y": {"field": "lo", "type": "quantitative", "title": null}, "y2": {"field": "hi"}}},
    {"data": {"name": "curve"}, "transform": [{"filter": "datum.panel == 'GPD'"}], "mark": {"type": "line", "color": "#f0b42c", "strokeWidth": 2.5}, "encoding": {"x": {"field": "tpr", "type": "quantitative", "title": "TPR"}, "y": {"field": "ppv", "type": "quantitative", "title": null}}},
    {"data": {"name": "pts"}, "transform": [{"filter": "datum.panel == 'GPD' && datum.kind == 'black'"}], "mark": {"type": "point", "shape": "M-1,-0.75L1,-0.75L0,0.75Z", "filled": true, "opacity": 1, "color": "#000000", "size": 110}, "encoding": {"x": {"field": "tpr", "type": "quantitative", "title": "TPR"}, "y": {"field": "ppv", "type": "quantitative", "title": null}}},
    {"data": {"name": "ann"}, "transform": [{"filter": "datum.panel == 'GPD'"}], "mark": {"type": "text", "align": "left", "baseline": "middle", "fontSize": 18, "color": "#333333"}, "encoding": {"x": {"field": "tpr", "type": "quantitative", "title": "TPR"}, "y": {"field": "ppv", "type": "quantitative", "title": null}, "text": {"field": "text"}}}
   ]},
   {"title": "LRDA", "width": 357, "height": 355, "layer": [
    {"data": {"name": "pts"}, "transform": [{"filter": "datum.panel == 'LRDA' && datum.kind == 'gray'"}], "mark": {"type": "point", "shape": "M-1,-0.75L1,-0.75L0,0.75Z", "filled": true, "opacity": 1, "color": "#808080", "size": 85}, "encoding": {"x": {"field": "tpr", "type": "quantitative", "scale": {"domain": [0, 100]}, "title": "TPR"}, "y": {"field": "ppv", "type": "quantitative", "scale": {"domain": [0, 100]}, "title": "PPV"}}},
    {"data": {"name": "band"}, "transform": [{"filter": "datum.panel == 'LRDA'"}], "mark": {"type": "area", "color": "#abcd77", "opacity": 0.5}, "encoding": {"x": {"field": "tpr", "type": "quantitative", "title": "TPR"}, "y": {"field": "lo", "type": "quantitative", "title": "PPV"}, "y2": {"field": "hi"}}},
    {"data": {"name": "curve"}, "transform": [{"filter": "datum.panel == 'LRDA'"}], "mark": {"type": "line", "color": "#6aab3a", "strokeWidth": 2.5}, "encoding": {"x": {"field": "tpr", "type": "quantitative", "title": "TPR"}, "y": {"field": "ppv", "type": "quantitative", "title": "PPV"}}},
    {"data": {"name": "pts"}, "transform": [{"filter": "datum.panel == 'LRDA' && datum.kind == 'black'"}], "mark": {"type": "point", "shape": "M-1,-0.75L1,-0.75L0,0.75Z", "filled": true, "opacity": 1, "color": "#000000", "size": 110}, "encoding": {"x": {"field": "tpr", "type": "quantitative", "title": "TPR"}, "y": {"field": "ppv", "type": "quantitative", "title": "PPV"}}},
    {"data": {"name": "ann"}, "transform": [{"filter": "datum.panel == 'LRDA'"}], "mark": {"type": "text", "align": "left", "baseline": "middle", "fontSize": 18, "color": "#333333"}, "encoding": {"x": {"field": "tpr", "type": "quantitative", "title": "TPR"}, "y": {"field": "ppv", "type": "quantitative", "title": "PPV"}, "text": {"field": "text"}}}
   ]},
   {"title": "GRDA", "width": 357, "height": 355, "layer": [
    {"data": {"name": "pts"}, "transform": [{"filter": "datum.panel == 'GRDA' && datum.kind == 'gray'"}], "mark": {"type": "point", "shape": "M-1,-0.75L1,-0.75L0,0.75Z", "filled": true, "opacity": 1, "color": "#808080", "size": 85}, "encoding": {"x": {"field": "tpr", "type": "quantitative", "scale": {"domain": [0, 100]}, "title": "TPR"}, "y": {"field": "ppv", "type": "quantitative", "scale": {"domain": [0, 100]}, "title": null}}},
    {"data": {"name": "band"}, "transform": [{"filter": "datum.panel == 'GRDA'"}], "mark": {"type": "area", "color": "#6bbfe9", "opacity": 0.5}, "encoding": {"x": {"field": "tpr", "type": "quantitative", "title": "TPR"}, "y": {"field": "lo", "type": "quantitative", "title": null}, "y2": {"field": "hi"}}},
    {"data": {"name": "curve"}, "transform": [{"filter": "datum.panel == 'GRDA'"}], "mark": {"type": "line", "color": "#3fb2e2", "strokeWidth": 2.5}, "encoding": {"x": {"field": "tpr", "type": "quantitative", "title": "TPR"}, "y": {"field": "ppv", "type": "quantitative", "title": null}}},
    {"data": {"name": "pts"}, "transform": [{"filter": "datum.panel == 'GRDA' && datum.kind == 'black'"}], "mark": {"type": "point", "shape": "M-1,-0.75L1,-0.75L0,0.75Z", "filled": true, "opacity": 1, "color": "#000000", "size": 110}, "encoding": {"x": {"field": "tpr", "type": "quantitative", "title": "TPR"}, "y": {"field": "ppv", "type": "quantitative", "title": null}}},
    {"data": {"name": "ann"}, "transform": [{"filter": "datum.panel == 'GRDA'"}], "mark": {"type": "text", "align": "left", "baseline": "middle", "fontSize": 18, "color": "#333333"}, "encoding": {"x": {"field": "tpr", "type": "quantitative", "title": "TPR"}, "y": {"field": "ppv", "type": "quantitative", "title": null}, "text": {"field": "text"}}}
   ]},
   {"title": "Other", "width": 357, "height": 355, "layer": [
    {"data": {"name": "pts"}, "transform": [{"filter": "datum.panel == 'Other' && datum.kind == 'gray'"}], "mark": {"type": "point", "shape": "M-1,-0.75L1,-0.75L0,0.75Z", "filled": true, "opacity": 1, "color": "#808080", "size": 85}, "encoding": {"x": {"field": "tpr", "type": "quantitative", "scale": {"domain": [0, 100]}, "title": "TPR"}, "y": {"field": "ppv", "type": "quantitative", "scale": {"domain": [0, 100]}, "title": null}}},
    {"data": {"name": "band"}, "transform": [{"filter": "datum.panel == 'Other'"}], "mark": {"type": "area", "color": "#5599d2", "opacity": 0.5}, "encoding": {"x": {"field": "tpr", "type": "quantitative", "title": "TPR"}, "y": {"field": "lo", "type": "quantitative", "title": null}, "y2": {"field": "hi"}}},
    {"data": {"name": "curve"}, "transform": [{"filter": "datum.panel == 'Other'"}], "mark": {"type": "line", "color": "#1d6db2", "strokeWidth": 2.5}, "encoding": {"x": {"field": "tpr", "type": "quantitative", "title": "TPR"}, "y": {"field": "ppv", "type": "quantitative", "title": null}}},
    {"data": {"name": "pts"}, "transform": [{"filter": "datum.panel == 'Other' && datum.kind == 'black'"}], "mark": {"type": "point", "shape": "M-1,-0.75L1,-0.75L0,0.75Z", "filled": true, "opacity": 1, "color": "#000000", "size": 110}, "encoding": {"x": {"field": "tpr", "type": "quantitative", "title": "TPR"}, "y": {"field": "ppv", "type": "quantitative", "title": null}}},
    {"data": {"name": "ann"}, "transform": [{"filter": "datum.panel == 'Other'"}], "mark": {"type": "text", "align": "left", "baseline": "middle", "fontSize": 18, "color": "#333333"}, "encoding": {"x": {"field": "tpr", "type": "quantitative", "title": "TPR"}, "y": {"field": "ppv", "type": "quantitative", "title": null}, "text": {"field": "text"}}}
   ]}
 ]}
]}
]
}
